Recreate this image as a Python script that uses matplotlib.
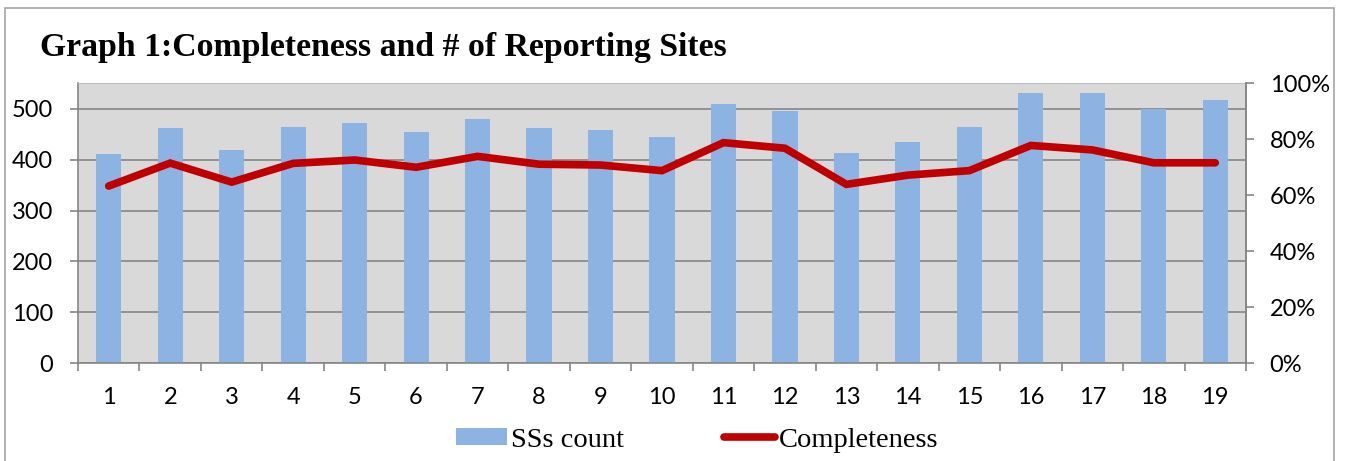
import numpy as np
import matplotlib.pyplot as plt
from matplotlib.patches import Rectangle
from matplotlib.lines import Line2D
from matplotlib.patches import Patch
from matplotlib.ticker import FuncFormatter, MultipleLocator

# Data
categories = [str(i) for i in range(1, 20)]
ss_count = [411, 463, 419, 465, 472, 455, 480, 462, 459, 445,
            510, 496, 413, 435, 464, 531, 531, 499, 518]
completeness = [63.2, 71.4, 64.6, 71.3, 72.5, 69.9, 73.8, 71.0, 70.7, 68.7,
                78.7, 76.7, 63.8, 67.1, 68.7, 77.7, 76.1, 71.5, 71.5]

bar_color = '#8DB3E2'
line_color = '#C00000'
axis_gray = '#868686'
tick_font = 'Lato'
serif_font = 'Liberation Serif'

fig = plt.figure(figsize=(13.46, 4.61), dpi=100)
fig.patch.set_facecolor('white')

# outer chart frame
fig.patches.append(Rectangle((5 / 1346, -0.05), 1329 / 1346, 1.05 - 8 / 461,
                             transform=fig.transFigure, fill=False,
                             edgecolor='#A6A6A6', linewidth=1.2))

ax = fig.add_axes([78 / 1346, 98 / 461, 1168 / 1346, 280 / 461])
ax.set_facecolor('#D9D9D9')
x = np.arange(len(categories))
ax.bar(x, ss_count, width=0.41, color=bar_color, zorder=2)
ax.set_xlim(-0.5, len(categories) - 0.5)
ax.set_ylim(0, 551)
ax.yaxis.set_major_locator(MultipleLocator(100))
ax.grid(axis='y', color=axis_gray, linewidth=1.2, zorder=1)
ax.set_axisbelow(True)
ax.set_xticks(x)
ax.set_xticklabels(categories)
ax.set_xticks(np.arange(-0.5, len(categories)), minor=True)
ax.tick_params(axis='x', which='major', length=0, pad=17, labelsize=17)
ax.tick_params(axis='x', which='minor', length=6, color=axis_gray, width=1.2)
ax.tick_params(axis='y', length=6, color=axis_gray, width=1.2, pad=12, labelsize=17)
for lab in ax.get_xticklabels() + ax.get_yticklabels():
    lab.set_fontfamily(tick_font)
for side in ['left', 'bottom', 'right']:
    ax.spines[side].set_color(axis_gray)
    ax.spines[side].set_linewidth(1.2)
ax.spines['top'].set_color('#BFBFBF')

ax2 = ax.twinx()
ax2.plot(x, completeness, color=line_color, linewidth=5.5,
         solid_capstyle='round', solid_joinstyle='miter', zorder=3)
ax2.set_ylim(0, 100)
ax2.yaxis.set_major_locator(MultipleLocator(20))
ax2.yaxis.set_major_formatter(FuncFormatter(lambda v, p: f'{v:.0f}%'))
ax2.tick_params(axis='y', length=6, color=axis_gray, width=1.2, pad=11, labelsize=17)
for lab in ax2.get_yticklabels():
    lab.set_fontfamily(tick_font)
for side in ['left', 'bottom', 'top']:
    ax2.spines[side].set_visible(False)
ax2.spines['right'].set_color(axis_gray)
ax2.spines['right'].set_linewidth(1.2)

fig.text(40 / 1346, 1 - 56 / 461, 'Graph 1:Completeness and # of Reporting Sites',
         fontsize=24.3, fontweight='bold', family=serif_font, va='baseline')

handles = [Patch(facecolor=bar_color, edgecolor='none'),
           Line2D([0], [0], color=line_color, linewidth=5.5, solid_capstyle='round')]
fig.legend(handles, ['SSs count', 'Completeness'], loc='center',
           bbox_to_anchor=(697 / 1346, 1 - 440 / 461), ncol=2, frameon=False,
           prop={'family': serif_font, 'size': 20.5}, handlelength=1.8,
           handleheight=0.53, handletextpad=0.14, columnspacing=3.5)

fig.savefig('out.png', dpi=100)
